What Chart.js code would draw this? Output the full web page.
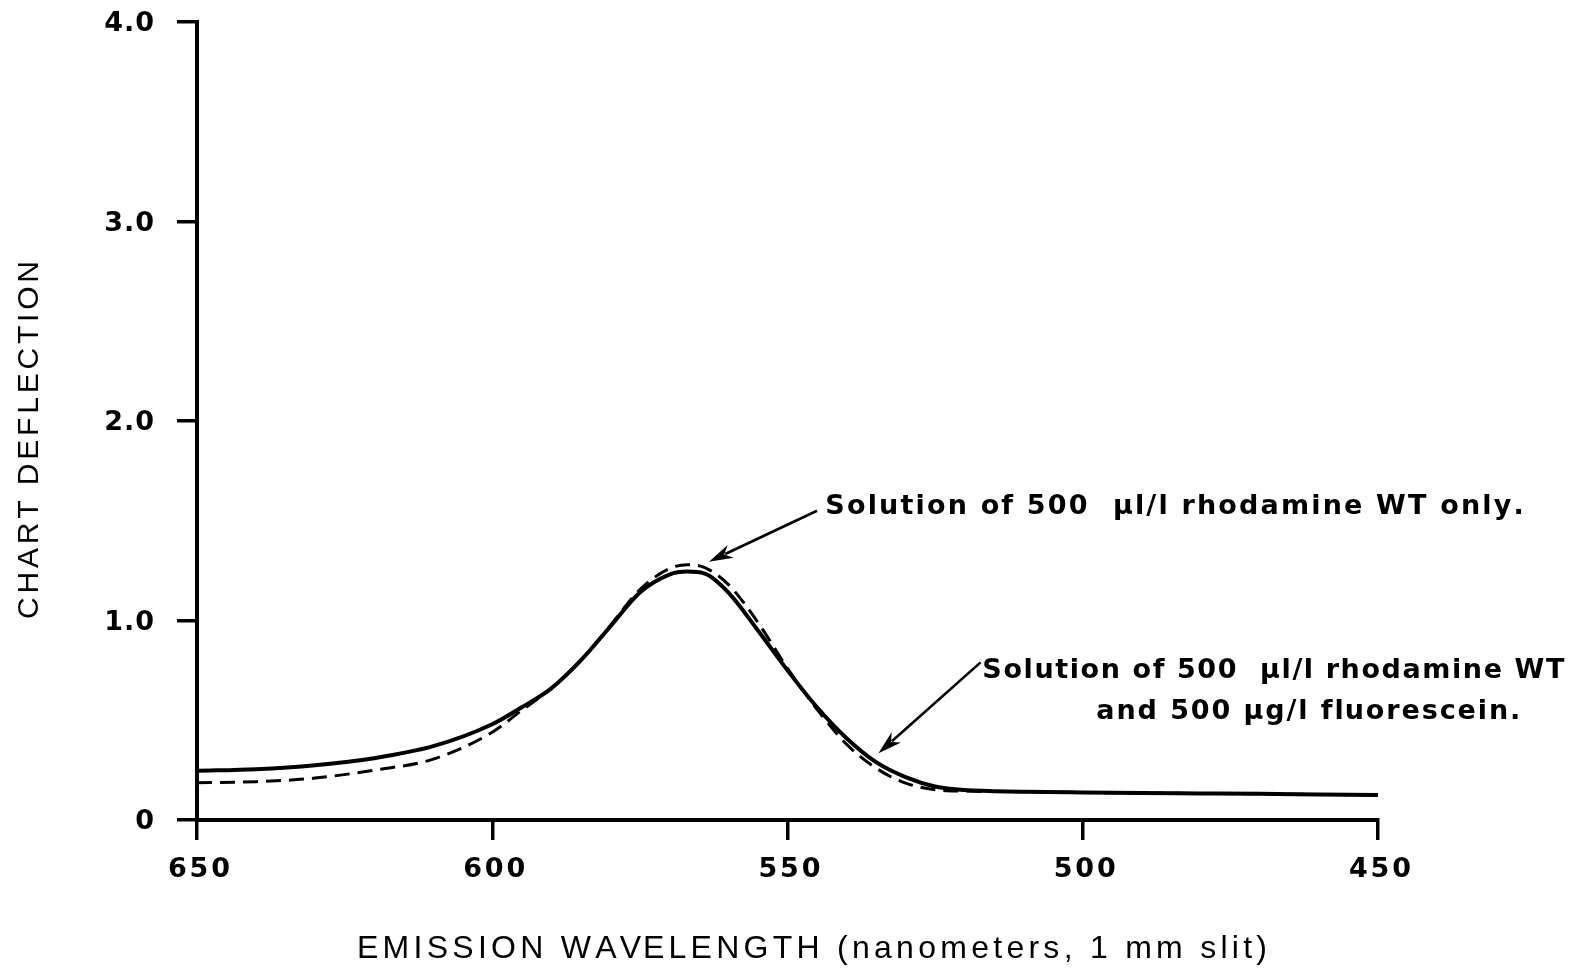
<!DOCTYPE html>
<html>
<head>
<meta charset="utf-8">
<script src="https://cdn.jsdelivr.net/npm/chart.js@4.4.1/dist/chart.umd.min.js"></script>
<style>
  html, body { margin: 0; padding: 0; background: #ffffff; }
  #wrap { width: 1585px; height: 970px; position: relative; }
  canvas { display: block; }
</style>
</head>
<body>
<div id="wrap"><canvas id="c" width="1585" height="970"></canvas></div>
<script>
// ---- Data ----
const wavelengths = [650, 640, 630, 620, 610, 600, 595, 590, 585, 580, 575, 570, 567, 564, 560, 555, 550, 545, 540, 535, 530, 525, 520, 510, 500, 490, 480, 470, 460, 450];
// Solution of 500 µl/l rhodamine WT and 500 µg/l fluorescein (solid)
const mixture = [0.247, 0.255, 0.275, 0.31, 0.37, 0.48, 0.565, 0.66, 0.80, 0.97, 1.14, 1.23, 1.245, 1.235, 1.14, 0.95, 0.75, 0.565, 0.41, 0.29, 0.215, 0.168, 0.15, 0.142, 0.138, 0.135, 0.133, 0.131, 0.128, 0.125];
// Solution of 500 µl/l rhodamine WT only (dashed)
const rhodamineOnly = [0.187, 0.192, 0.21, 0.25, 0.305, 0.44, 0.55, 0.66, 0.80, 0.975, 1.155, 1.26, 1.28, 1.265, 1.18, 0.99, 0.76, 0.555, 0.38, 0.26, 0.185, 0.152, 0.145, 0.142, 0.138, 0.135, 0.133, 0.131, 0.128, 0.125];

const xTicks = [650, 600, 550, 500, 450];
const xTickLabels = ['650', '600', '550', '500', '450'];
const yTicks = [0, 1, 2, 3, 4];
const yTickLabels = ['0', '1.0', '2.0', '3.0', '4.0'];

const xTitle = 'EMISSION WAVELENGTH (nanometers, 1 mm slit)';
const yTitle = 'CHART DEFLECTION';
const label1 = 'Solution of 500  µl/l rhodamine WT only.';
const label2a = 'Solution of 500  µl/l rhodamine WT';
const label2b = 'and 500 µg/l fluorescein.';

// annotation anchors in data units [wavelength, deflection]
const arrow1Tail = [545.0, 1.55];
const arrow1Head = [563.3, 1.295];
const arrow2Tail = [517.3, 0.79];
const arrow2Head = [534.6, 0.335];
const label1Pos = [543.6, 1.57];
const label2aPos = [517.0, 0.748];
const label2bPos = [497.7, 0.543];

const toPts = (xs, ys) => xs.map((x, i) => ({ x: x, y: ys[i] }));

const FONT = '"Liberation Sans", Arial, Helvetica, sans-serif';
const BOLDFONT = '"DejaVu Sans", "Liberation Sans", sans-serif';

function drawSpaced(ctx, text, x, y, spacing, align) {
  const n = text.length;
  const natural = ctx.measureText(text).width;
  const total = natural + spacing * (n - 1);
  let start = x;
  if (align === 'center') start = x - total / 2;
  else if (align === 'right') start = x - total;
  ctx.textAlign = 'left';
  for (let i = 0; i < n; i++) {
    const off = ctx.measureText(text.slice(0, i)).width + spacing * i;
    ctx.fillText(text[i], start + off, y);
  }
}
function drawFit(ctx, text, x, y, width, align) {
  const natural = ctx.measureText(text).width;
  const spacing = Math.max(0, (width - natural) / (text.length - 1));
  drawSpaced(ctx, text, x, y, spacing, align);
}
function arrow(ctx, x1, y1, x2, y2) {
  ctx.save();
  ctx.strokeStyle = '#000';
  ctx.fillStyle = '#000';
  ctx.lineWidth = 2.6;
  const ang = Math.atan2(y2 - y1, x2 - x1);
  const L = 24, W = 7;
  const bx = x2 - L * Math.cos(ang), by = y2 - L * Math.sin(ang);
  ctx.beginPath();
  ctx.moveTo(x1, y1);
  ctx.lineTo(bx + 6 * Math.cos(ang), by + 6 * Math.sin(ang));
  ctx.stroke();
  ctx.beginPath();
  ctx.moveTo(x2, y2);
  ctx.lineTo(bx + W * Math.sin(ang), by - W * Math.cos(ang));
  ctx.lineTo(bx + 0.3 * L * Math.cos(ang), by + 0.3 * L * Math.sin(ang));
  ctx.lineTo(bx - W * Math.sin(ang), by + W * Math.cos(ang));
  ctx.closePath();
  ctx.fill();
  ctx.restore();
}

const textPlugin = {
  id: 'textPlugin',
  afterDraw(chart) {
    const ctx = chart.ctx;
    const xs = chart.scales.x, ys = chart.scales.y;
    const px = v => xs.getPixelForValue(v);
    const py = v => ys.getPixelForValue(v);
    ctx.save();
    ctx.fillStyle = '#000';
    ctx.textBaseline = 'middle';

    // x tick labels
    ctx.font = 'bold 27px ' + BOLDFONT;
    xTicks.forEach((v, i) => {
      drawFit(ctx, xTickLabels[i], px(v) + 2, 870, 62, 'center');
    });
    // y tick labels
    yTicks.forEach((v, i) => {
      drawSpaced(ctx, yTickLabels[i], 154, py(v) + 2, 1, 'right');
    });

    // axis titles
    ctx.font = '32px ' + FONT;
    drawFit(ctx, xTitle, 357, 949, 910, 'left');
    ctx.save();
    ctx.translate(30, 440);
    ctx.rotate(-Math.PI / 2);
    ctx.font = '30px ' + FONT;
    drawFit(ctx, yTitle, 0, 0, 358, 'center');
    ctx.restore();

    // annotations
    ctx.font = 'bold 27px ' + BOLDFONT;
    drawFit(ctx, label1, px(label1Pos[0]), py(label1Pos[1]), 696, 'left');
    drawFit(ctx, label2a, px(label2aPos[0]), py(label2aPos[1]), 582, 'left');
    drawFit(ctx, label2b, px(label2bPos[0]), py(label2bPos[1]), 424, 'left');

    arrow(ctx, px(arrow1Tail[0]), py(arrow1Tail[1]), px(arrow1Head[0]), py(arrow1Head[1]));
    arrow(ctx, px(arrow2Tail[0]), py(arrow2Tail[1]), px(arrow2Head[0]), py(arrow2Head[1]));
    ctx.restore();
  }
};

const gridOpts = {
  drawOnChartArea: false,
  drawTicks: true,
  tickLength: 20,
  tickWidth: 3.5,
  tickColor: '#000',
  color: '#000',
  lineWidth: 3.5
};

new Chart(document.getElementById('c'), {
  type: 'line',
  data: {
    datasets: [
      {
        label: 'Solution of 500 µl/l rhodamine WT and 500 µg/l fluorescein',
        data: toPts(wavelengths, mixture),
        borderColor: '#000',
        borderWidth: 4,
        pointRadius: 0,
        fill: false,
        cubicInterpolationMode: 'monotone'
      },
      {
        label: 'Solution of 500 µl/l rhodamine WT only',
        data: toPts(wavelengths, rhodamineOnly),
        borderColor: '#000',
        borderWidth: 3,
        borderDash: [15, 8],
        pointRadius: 0,
        fill: false,
        cubicInterpolationMode: 'monotone'
      }
    ]
  },
  options: {
    responsive: false,
    animation: false,
    devicePixelRatio: 1,
    layout: { padding: { left: 0, top: 22, right: 207, bottom: 0 } },
    plugins: { legend: { display: false }, tooltip: { enabled: false }, title: { display: false } },
    scales: {
      x: {
        type: 'linear',
        reverse: true,
        min: 450,
        max: 650,
        afterBuildTicks: s => { s.ticks = xTicks.map(v => ({ value: v })); },
        afterFit: s => { s.height = 150; },
        ticks: { display: false },
        grid: gridOpts,
        border: { display: true, color: '#000', width: 4 }
      },
      y: {
        type: 'linear',
        min: 0,
        max: 4,
        afterBuildTicks: s => { s.ticks = yTicks.map(v => ({ value: v })); },
        afterFit: s => { s.width = 197; },
        ticks: { display: false },
        grid: gridOpts,
        border: { display: true, color: '#000', width: 4 }
      }
    }
  },
  plugins: [textPlugin]
});
</script>
</body>
</html>
